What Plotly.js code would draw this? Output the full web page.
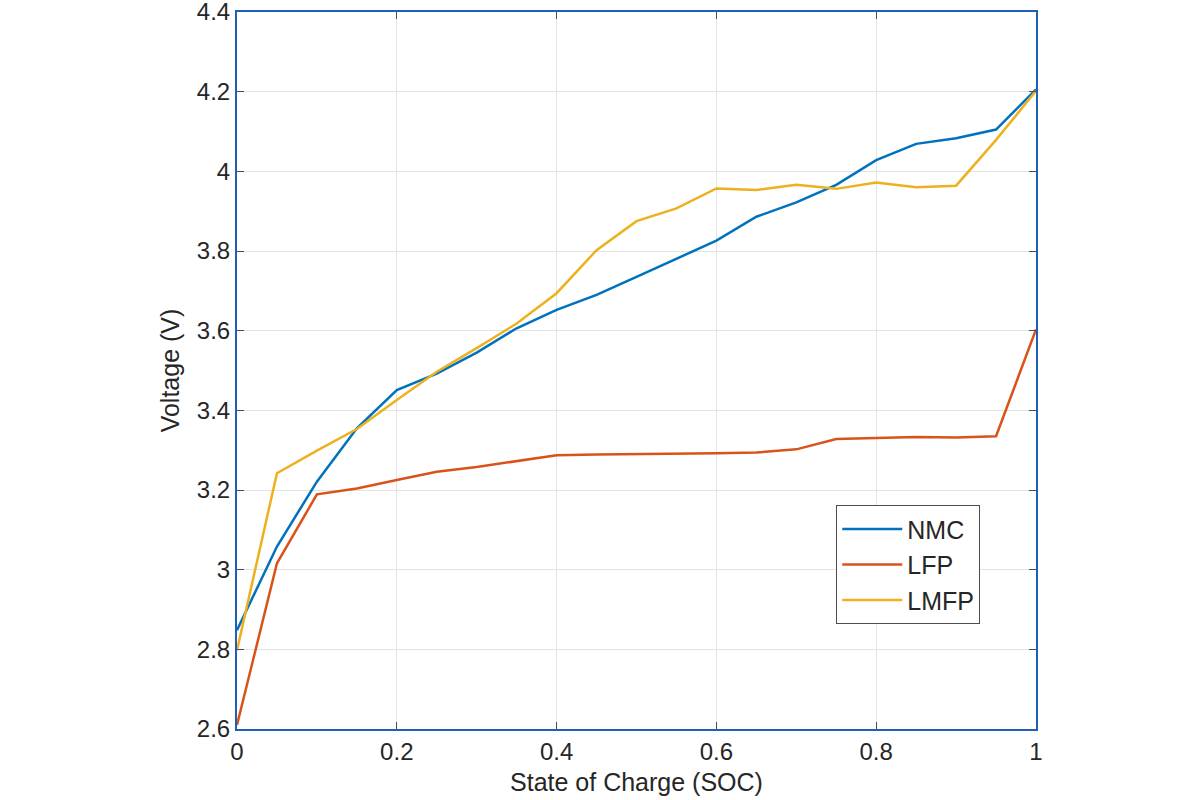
<!DOCTYPE html>
<html>
<head>
<meta charset="utf-8">
<script src="https://cdn.plot.ly/plotly-3.0.1.min.js"></script>
<style>
  html, body { margin: 0; padding: 0; background: #ffffff; }
  #chart { width: 1200px; height: 800px; }
</style>
</head>
<body>
<div id="chart"></div>
<script>
// State of charge sample points
const soc = [0, 0.05, 0.1, 0.15, 0.2, 0.25, 0.3, 0.35, 0.4, 0.45, 0.5,
             0.55, 0.6, 0.65, 0.7, 0.75, 0.8, 0.85, 0.9, 0.95, 1.0];

// Open-circuit voltage per chemistry (V)
const nmcVoltage = [2.848, 3.058, 3.221, 3.355, 3.451, 3.492, 3.545, 3.606, 3.652, 3.690, 3.735,
                    3.780, 3.826, 3.886, 3.922, 3.966, 4.028, 4.069, 4.083, 4.105, 4.206];
const lfpVoltage = [2.610, 3.016, 3.189, 3.204, 3.225, 3.246, 3.258, 3.273, 3.287, 3.289, 3.290,
                    3.290, 3.292, 3.294, 3.302, 3.328, 3.331, 3.333, 3.332, 3.335, 3.603];
const lmfpVoltage = [2.798, 3.242, 3.299, 3.353, 3.426, 3.497, 3.556, 3.618, 3.694, 3.802, 3.875,
                     3.907, 3.957, 3.953, 3.966, 3.956, 3.972, 3.960, 3.964, 4.079, 4.202];

const seriesNames = ['NMC', 'LFP', 'LMFP'];
const seriesColors = ['#0072BD', '#D95319', '#EDB120'];

const xTicks = [0, 0.2, 0.4, 0.6, 0.8, 1];
const yTicks = [2.6, 2.8, 3, 3.2, 3.4, 3.6, 3.8, 4, 4.2, 4.4];

const ys = [nmcVoltage, lfpVoltage, lmfpVoltage];
const traces = ys.map((y, i) => ({
  x: soc,
  y: y,
  type: 'scatter',
  mode: 'lines',
  name: seriesNames[i],
  line: { color: seriesColors[i], width: 2.5 }
}));

const fontFamily = 'Liberation Sans, Arial, Helvetica, sans-serif';
const textColor = '#262626';
const frameColor = '#1f5fb8';

const axisCommon = {
  showline: true,
  linecolor: frameColor,
  linewidth: 2,
  mirror: 'ticks',
  ticks: 'inside',
  ticklen: 7,
  tickwidth: 1,
  tickcolor: '#4d4d4d',
  showgrid: true,
  gridcolor: '#e3e3e3',
  gridwidth: 1,
  zeroline: false,
  automargin: false,
  ticklabeloverflow: 'allow',
  tickfont: { family: fontFamily, size: 24, color: textColor }
};

const layout = {
  width: 1200,
  height: 800,
  paper_bgcolor: '#ffffff',
  plot_bgcolor: '#ffffff',
  margin: { l: 237, r: 164, t: 12, b: 71 },
  showlegend: true,
  font: { family: fontFamily, color: textColor },
  xaxis: Object.assign({}, axisCommon, {
    range: [0, 1],
    tickvals: xTicks,
    ticktext: xTicks.map(String),
    title: { text: 'State of Charge (SOC)', font: { family: fontFamily, size: 25, color: textColor }, standoff: 10 }
  }),
  yaxis: Object.assign({}, axisCommon, {
    range: [2.6, 4.4],
    tickvals: yTicks,
    ticktext: yTicks.map(String),
    title: { text: 'Voltage (V)', font: { family: fontFamily, size: 25, color: textColor }, standoff: 10 }
  }),
  legend: {
    x: 0.75,
    y: 0.312,
    xanchor: 'left',
    yanchor: 'top',
    bgcolor: '#ffffff',
    bordercolor: '#4d4d4d',
    borderwidth: 1,
    font: { family: fontFamily, size: 25, color: textColor },
    tracegroupgap: 0,
    itemwidth: 60
  }
};

Plotly.newPlot('chart', traces, layout, { displayModeBar: false, staticPlot: true });
</script>
</body>
</html>
